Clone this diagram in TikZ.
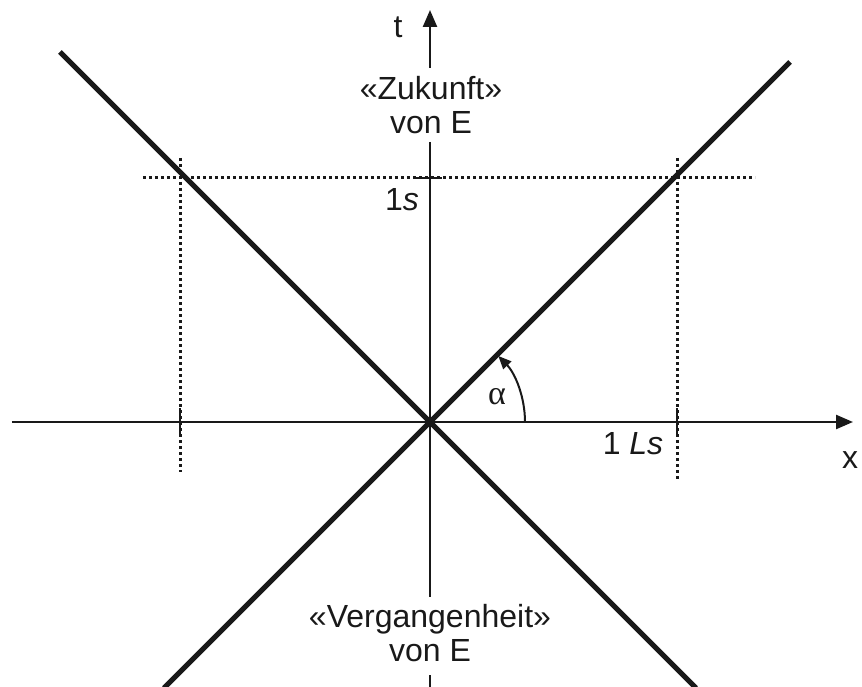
\documentclass[tikz,border=0pt]{standalone}
\usepackage{fontspec}
\setmainfont{Liberation Sans}
\newfontfamily\greekfont{Liberation Serif}
\usetikzlibrary{arrows.meta}
\tikzset{
  axis/.style={line width=2.4pt, draw=black!90},
  cone/.style={line width=5pt, draw=black!90},
  guide/.style={line width=3pt, draw=black!90, dash pattern=on 3pt off 3pt},
  tickmark/.style={line width=2.4pt, draw=black!90},
  lbl/.style={inner sep=0pt, text=black!90, font=\fontsize{32}{34}\selectfont},
  bigtip/.style={-{Triangle[length=17pt,width=14pt]}}
}
\begin{document}
\begin{tikzpicture}[x=1pt,y=1pt]
\useasboundingbox (-430,-264) rectangle (432,422);
\coordinate (O) at (0,0);
% axes
\coordinate (xl) at (-418,0);
\coordinate (xr) at (423,0);
\draw[axis,bigtip] (xl) -- (xr);
\coordinate (ttop) at (0,412);
\coordinate (tmid1) at (0,354);
\coordinate (tmid2) at (0,280);
\coordinate (tmid3) at (0,-175);
\coordinate (tmid4) at (0,-253);
\coordinate (tbot) at (0,-266);
\draw[axis,{Triangle[length=17pt,width=14pt]}-] (ttop) -- (tmid1);
\draw[axis] (tmid2) -- (tmid3);
\draw[axis] (tmid4) -- (tbot);
% light cone
\coordinate (ul) at (-370,370);
\coordinate (lr) at (266,-266);
\coordinate (ll) at (-266,-266);
\coordinate (ur) at (360,360);
\draw[cone] (ul) -- (lr);
\draw[cone] (ll) -- (ur);
% dotted guides
\coordinate (hl) at (-287,244);
\coordinate (hr) at (325,244);
\draw[guide] (hl) -- (hr);
\coordinate (vlt) at (-249,264);
\coordinate (vlb) at (-249,-50);
\coordinate (vrt) at (247,264);
\coordinate (vrb) at (247,-58);
\draw[guide] (vlt) -- (vlb);
\draw[guide] (vrt) -- (vrb);
% ticks
\coordinate (tk1a) at (-250,14);
\coordinate (tk1b) at (-250,-15);
\coordinate (tk2a) at (247,14);
\coordinate (tk2b) at (247,-15);
\coordinate (tk3a) at (-17,244);
\coordinate (tk3b) at (12,244);
\draw[tickmark] (tk1a) -- (tk1b);
\draw[tickmark] (tk2a) -- (tk2b);
\draw[tickmark] (tk3a) -- (tk3b);
% angle
\coordinate (a0) at (95,0);
\draw[line width=2pt, draw=black!90, -{Triangle[length=13pt,width=11pt]}] (a0) arc[start angle=0, end angle=44, radius=95];
% labels
\node[lbl] (tlab) at (-32,395) {t};
\node[lbl] (xlab) at (420,-38) {x};
\node[lbl, align=center] (fut) at (1,317) {«Zukunft»\\von E};
\node[lbl, align=center] (past) at (0,-211) {«Vergangenheit»\\von E};
\node[lbl] (one) at (-28,222) {1\textit{s}};
\node[lbl] (ls) at (203,-22) {1 \textit{Ls}};
\node[inner sep=0pt, text=black!90, font=\greekfont\fontsize{34}{34}\selectfont] (alpha) at (67,25) {α};
\end{tikzpicture}
\end{document}
